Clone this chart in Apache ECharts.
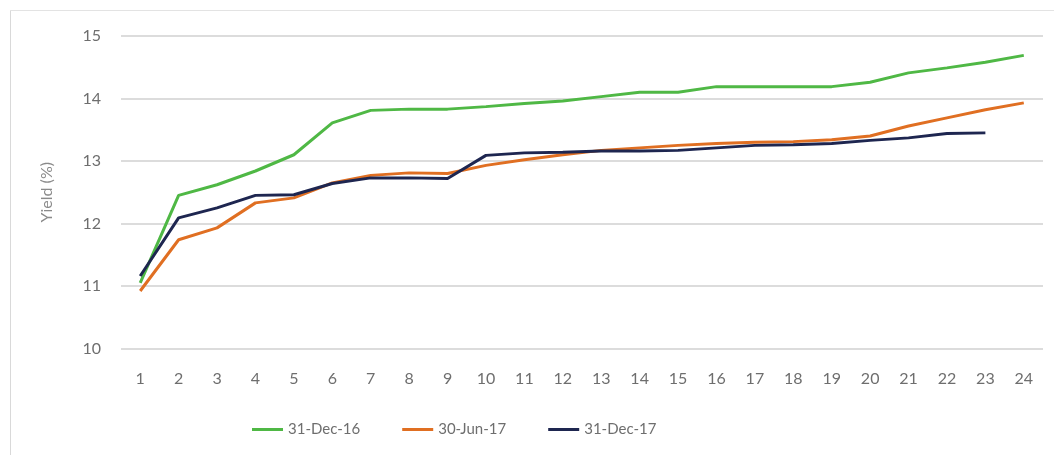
<!DOCTYPE html>
<html>
<head>
<meta charset="utf-8">
<script src="https://cdn.jsdelivr.net/npm/echarts@6/dist/echarts.min.js"></script>
<style>
  html, body { margin: 0; padding: 0; background: #fff; }
  #chart { width: 1054px; height: 455px; }
</style>
</head>
<body>
<div id="chart"></div>
<script>
// Tenor buckets along the curve
const tenors = ['1','2','3','4','5','6','7','8','9','10','11','12','13','14','15','16','17','18','19','20','21','22','23','24'];

// Yield curves (%) on three dates
const dec16 = [11.05, 12.45, 12.62, 12.84, 13.10, 13.61, 13.81, 13.83, 13.83, 13.87, 13.92, 13.96,
               14.03, 14.10, 14.10, 14.19, 14.19, 14.19, 14.19, 14.26, 14.41, 14.49, 14.58, 14.69];
const jun17 = [10.92, 11.74, 11.93, 12.33, 12.41, 12.65, 12.77, 12.81, 12.80, 12.93, 13.02, 13.10,
               13.17, 13.21, 13.25, 13.28, 13.30, 13.31, 13.34, 13.40, 13.56, 13.69, 13.82, 13.93];
const dec17 = [11.16, 12.09, 12.25, 12.45, 12.46, 12.64, 12.73, 12.73, 12.72, 13.09, 13.13, 13.14,
               13.16, 13.16, 13.17, 13.21, 13.25, 13.26, 13.28, 13.33, 13.37, 13.44, 13.45];

const seriesNames = ['31-Dec-16', '30-Jun-17', '31-Dec-17'];
const seriesColors = ['#4fb845', '#e06f22', '#1e2650'];
const yTicks = { min: 10, max: 15, interval: 1 };

const chart = echarts.init(document.getElementById('chart'));
const fontFamily = 'Lato, "Open Sans", sans-serif';

chart.setOption({
  animation: false,
  backgroundColor: '#ffffff',
  grid: { left: 121, right: 11, top: 36, bottom: 106.5, containLabel: false },
  graphic: [
    { type: 'line', shape: { x1: 10.5, y1: 10, x2: 10.5, y2: 455 }, style: { stroke: '#d9d9d9', lineWidth: 1 } },
    { type: 'line', shape: { x1: 10, y1: 10.5, x2: 1054, y2: 10.5 }, style: { stroke: '#e3e3e3', lineWidth: 1 } }
  ],
  legend: {
    data: seriesNames,
    left: 247,
    top: 417,
    icon: 'rect',
    itemWidth: 31,
    itemHeight: 3,
    itemGap: 42,
    textStyle: { color: '#6e6e6e', fontSize: 15, fontFamily: fontFamily }
  },
  xAxis: {
    type: 'category',
    data: tenors,
    boundaryGap: true,
    axisLine: { show: false },
    axisTick: { show: false },
    axisLabel: { color: '#6e6e6e', fontSize: 16, fontFamily: fontFamily, margin: 22, interval: 0 }
  },
  yAxis: {
    type: 'value',
    min: yTicks.min,
    max: yTicks.max,
    interval: yTicks.interval,
    name: 'Yield (%)',
    nameLocation: 'middle',
    nameGap: 66,
    nameRotate: 90,
    nameTextStyle: { color: '#8a8a8a', fontSize: 16, fontFamily: fontFamily },
    axisLine: { show: false },
    axisTick: { show: false },
    axisLabel: { color: '#6e6e6e', fontSize: 16, fontFamily: fontFamily, margin: 20 },
    splitLine: { lineStyle: { color: '#dcdcdc', width: 2 } }
  },
  series: [dec16, jun17, dec17].map((vals, i) => ({
    name: seriesNames[i],
    type: 'line',
    data: vals,
    symbol: 'none',
    color: seriesColors[i],
    lineStyle: { width: 3, color: seriesColors[i] },
    z: 3 + i
  }))
});
</script>
</body>
</html>
